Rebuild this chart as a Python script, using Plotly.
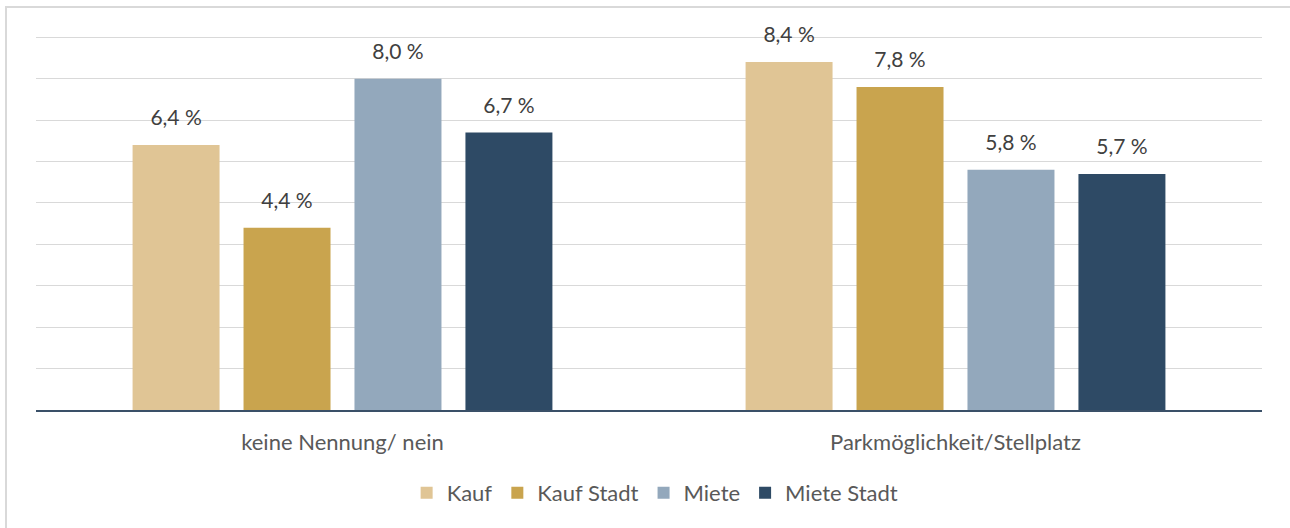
import plotly.graph_objects as go

categories = ["keine Nennung/ nein", "Parkmöglichkeit/Stellplatz"]
series_names = ["Kauf", "Kauf Stadt", "Miete", "Miete Stadt"]
kauf = [6.4, 8.4]
kauf_stadt = [4.4, 7.8]
miete = [8.0, 5.8]
miete_stadt = [6.7, 5.7]
values = [kauf, kauf_stadt, miete, miete_stadt]
colors = ["#E0C595", "#C9A44E", "#93A8BC", "#2E4A65"]

FONT = "Lato"

fig = go.Figure()
for name, vals, col in zip(series_names, values, colors):
    fig.add_trace(go.Bar(
        x=categories, y=vals, name=name, marker_color=col,
        marker_line_width=0, offsetgroup=name,
    ))
for name, vals, col in zip(series_names, values, colors):
    fig.add_trace(go.Scatter(
        x=categories, y=vals, mode="markers+text", showlegend=False,
        marker=dict(size=22, color="rgba(0,0,0,0)"),
        text=[f"{v:.1f} %".replace(".", ",") for v in vals],
        textposition="top center", cliponaxis=False,
        textfont=dict(family=FONT, size=21, color="#404040"),
        hoverinfo="skip", offsetgroup=name,
    ))

fig.update_layout(
    width=1290, height=528,
    margin=dict(l=36, r=28, t=36, b=118),
    paper_bgcolor="white", plot_bgcolor="white",
    barmode="group", scattermode="group",
    bargap=0.276, bargroupgap=0.216,
    font=dict(family=FONT, color="#595959"),
    legend=dict(orientation="h", x=0.505, xanchor="center", y=-83/374, yanchor="middle",
                font=dict(family=FONT, size=22, color="#595959"), traceorder="normal"),
    showlegend=True,
)
fig.update_xaxes(range=[-0.5, 1.5], showline=True, linecolor="#3A5068", linewidth=2,
                 showgrid=False, ticks="", ticklabelstandoff=12,
                 tickfont=dict(family=FONT, size=22, color="#595959"))
fig.update_yaxes(range=[0, 9.03], tickvals=list(range(0, 10)), showgrid=True,
                 gridcolor="#D9D9D9", gridwidth=1,
                 showticklabels=False, zeroline=False, ticks="")

# outer chart-area frame (left and top edges are visible in the picture)
bx0, by0, by1, bx1 = -30 / 1226, -0.5, 403 / 374, 1.1
fig.add_shape(type="path", xref="paper", yref="paper",
              path=f"M {bx0},{by0} L {bx0},{by1} L {bx1},{by1}",
              line=dict(color="#D9D9D9", width=2), layer="below")

fig.write_html("out.html", config={"displayModeBar": False},
               post_script="document.body.style.margin='0';document.body.style.overflow='hidden';")
